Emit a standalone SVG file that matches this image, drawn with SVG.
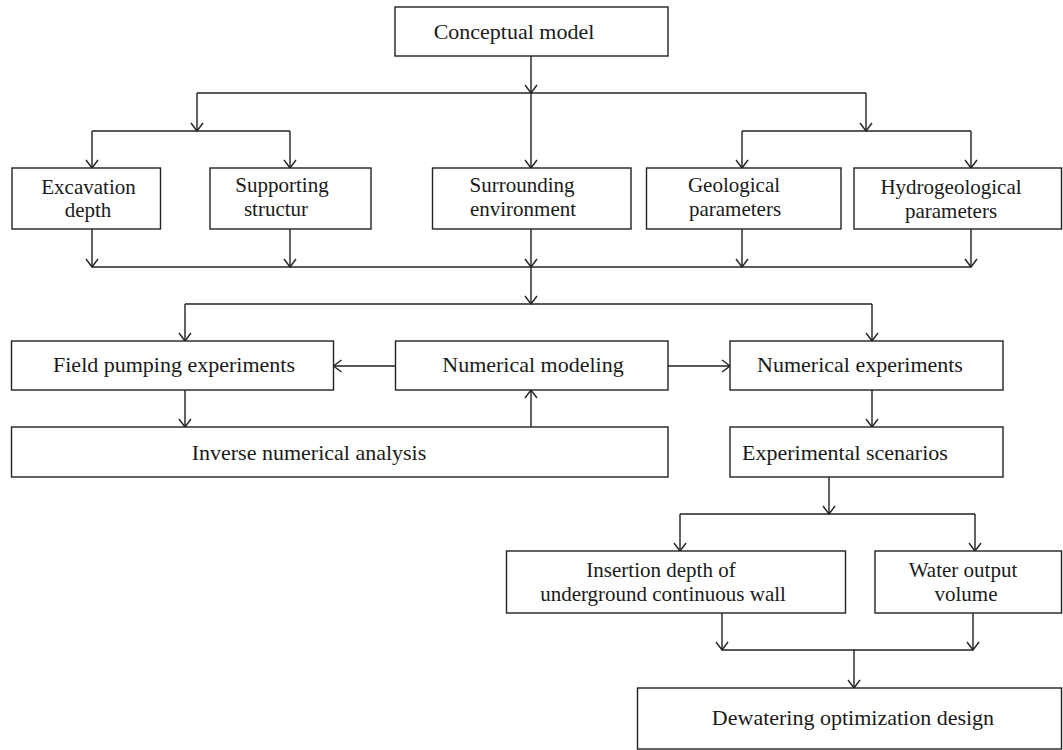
<svg xmlns="http://www.w3.org/2000/svg" width="1063" height="750" viewBox="0 0 1063 750">
<style>
.box{fill:#fff;stroke:#222;stroke-width:1.4}
.t{font-family:"Liberation Serif","Times New Roman",serif;font-size:22px;fill:#1a1a1a;text-anchor:middle}
.t2{font-size:21px}
.c{fill:none;stroke:#222;stroke-width:1.4}
</style>
<defs>
<marker id="ah" viewBox="-9 -7 10 14" refX="0" refY="0" markerWidth="10" markerHeight="14" markerUnits="userSpaceOnUse" orient="auto">
<path d="M-8,-6 L0,0 L-8,6" fill="none" stroke="#222" stroke-width="1.4"/>
</marker>
</defs>
<rect width="1063" height="750" fill="#fff"/>
<g id="connectors">
<path class="c" d="M531,56 V93" marker-end="url(#ah)"/>
<path class="c" d="M531,93 V168" marker-end="url(#ah)"/>
<path class="c" d="M197,93 H866"/>
<path class="c" d="M197,93 V131" marker-end="url(#ah)"/>
<path class="c" d="M866,93 V131" marker-end="url(#ah)"/>
<path class="c" d="M92,131 H290"/>
<path class="c" d="M92,131 V168" marker-end="url(#ah)"/>
<path class="c" d="M290,131 V168" marker-end="url(#ah)"/>
<path class="c" d="M742,131 H971"/>
<path class="c" d="M742,131 V168" marker-end="url(#ah)"/>
<path class="c" d="M971,131 V168" marker-end="url(#ah)"/>
<path class="c" d="M92,229 V267" marker-end="url(#ah)"/>
<path class="c" d="M290,229 V267" marker-end="url(#ah)"/>
<path class="c" d="M531,229 V267" marker-end="url(#ah)"/>
<path class="c" d="M742,229 V267" marker-end="url(#ah)"/>
<path class="c" d="M971,229 V267" marker-end="url(#ah)"/>
<path class="c" d="M92,267 H971"/>
<path class="c" d="M531,267 V304" marker-end="url(#ah)"/>
<path class="c" d="M185,304 H872"/>
<path class="c" d="M185,304 V341" marker-end="url(#ah)"/>
<path class="c" d="M872,304 V341" marker-end="url(#ah)"/>
<path class="c" d="M395.5,366 H333.5" marker-end="url(#ah)"/>
<path class="c" d="M668,366 H730" marker-end="url(#ah)"/>
<path class="c" d="M185,390 V427" marker-end="url(#ah)"/>
<path class="c" d="M531,427 V390" marker-end="url(#ah)"/>
<path class="c" d="M872,390 V427" marker-end="url(#ah)"/>
<path class="c" d="M829,477 V514" marker-end="url(#ah)"/>
<path class="c" d="M680,514 H975"/>
<path class="c" d="M680,514 V551" marker-end="url(#ah)"/>
<path class="c" d="M975,514 V551" marker-end="url(#ah)"/>
<path class="c" d="M722,613 V650" marker-end="url(#ah)"/>
<path class="c" d="M973,613 V650" marker-end="url(#ah)"/>
<path class="c" d="M722,650 H973"/>
<path class="c" d="M854,650 V688" marker-end="url(#ah)"/>
</g>
<g id="conceptual"><rect class="box" x="395" y="7" width="273" height="49"/><text class="t" x="514" y="39">Conceptual model</text></g>
<g id="excavation"><rect class="box" x="12" y="168" width="148.5" height="61"/><text class="t t2" x="88.5" y="193.5">Excavation</text><text class="t t2" x="88" y="217">depth</text></g>
<g id="supporting"><rect class="box" x="210" y="168" width="161" height="61"/><text class="t t2" x="282" y="192">Supporting</text><text class="t t2" x="276" y="216">structur</text></g>
<g id="surrounding"><rect class="box" x="432.5" y="168" width="198.5" height="61"/><text class="t t2" x="522" y="192">Surrounding</text><text class="t t2" x="523" y="216">environment</text></g>
<g id="geological"><rect class="box" x="646.5" y="168" width="194.5" height="61"/><text class="t t2" x="734" y="192">Geological</text><text class="t t2" x="735" y="216">parameters</text></g>
<g id="hydrogeological"><rect class="box" x="854" y="168" width="207.5" height="61"/><text class="t t2" x="951" y="194">Hydrogeological</text><text class="t t2" x="951" y="218">parameters</text></g>
<g id="field"><rect class="box" x="11.5" y="341" width="322" height="49"/><text class="t" x="174" y="372">Field pumping experiments</text></g>
<g id="modeling"><rect class="box" x="395.5" y="341" width="272.5" height="49"/><text class="t" x="533" y="372">Numerical modeling</text></g>
<g id="experiments"><rect class="box" x="730" y="341" width="273" height="49"/><text class="t" x="860" y="372">Numerical experiments</text></g>
<g id="inverse"><rect class="box" x="11.5" y="427" width="656.5" height="50"/><text class="t" x="309" y="460">Inverse numerical analysis</text></g>
<g id="scenarios"><rect class="box" x="730" y="427" width="273" height="50"/><text class="t" x="742" y="460" style="text-anchor:start">Experimental scenarios</text></g>
<g id="insertion"><rect class="box" x="506.5" y="551" width="339" height="62"/><text class="t t2" x="661" y="577">Insertion depth of</text><text class="t t2" x="663" y="601">underground continuous wall</text></g>
<g id="water"><rect class="box" x="875" y="551" width="186.5" height="62"/><text class="t t2" x="963" y="577">Water output</text><text class="t t2" x="966" y="601">volume</text></g>
<g id="dewatering"><rect class="box" x="637.5" y="688" width="424" height="61"/><text class="t" x="853" y="725">Dewatering optimization design</text></g>
</svg>
